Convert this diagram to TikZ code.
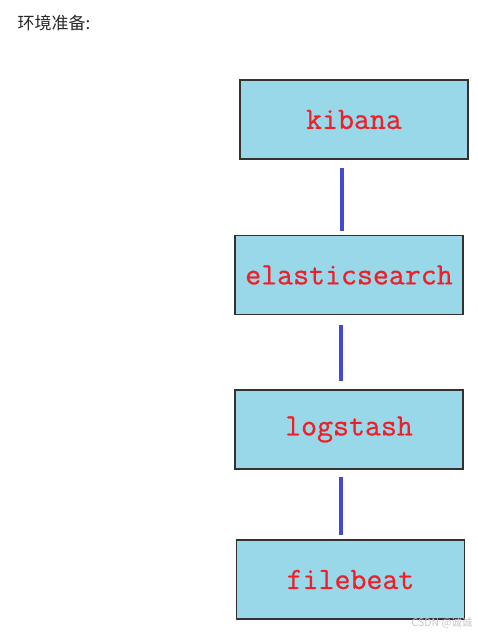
\documentclass[tikz,border=0pt]{standalone}
\usepackage{fontspec}
\newfontfamily\cjk{Noto Sans CJK SC}
\newfontfamily\wmfont{Noto Sans CJK SC}
\newfontfamily\monofont[FakeBold=0.6]{Latin Modern Mono}
\definecolor{boxfill}{RGB}{152,216,232}
\definecolor{boxline}{RGB}{50,50,50}
\definecolor{linkblue}{RGB}{68,72,210}
\definecolor{txtred}{RGB}{240,30,40}
\definecolor{titlegray}{RGB}{40,40,40}
\definecolor{wmgray}{RGB}{200,200,200}
\newcommand{\lowered}[1]{\raisebox{-3pt}{#1}}
\begin{document}
\begin{tikzpicture}[x=1pt,y=-1pt,
  compbox/.style={draw=boxline,line width=1.5pt,fill=boxfill,inner sep=0pt,
    minimum width=228pt,minimum height=79pt,
    font=\fontsize{31}{31}\selectfont\monofont,text=txtred},
  link/.style={draw=linkblue,line width=4pt}]
\useasboundingbox[fill=white] (0,0) rectangle (478,636);
\node[anchor=west,text=titlegray,font=\cjk\fontsize{17}{17}\selectfont] (title) at (14,23) {环境准备:};
\node[compbox] (kib) at (354,119.5) {\lowered{kibana}};
\node[compbox] (es) at (349,275) {\lowered{elasticsearch}};
\node[compbox] (ls) at (349,429.5) {\lowered{logstash}};
\node[compbox] (fb) at (350.5,579.5) {\lowered{filebeat}};
\coordinate (a1) at (342,168); \coordinate (a2) at (342,231);
\coordinate (b1) at (341,325); \coordinate (b2) at (341,381);
\coordinate (c1) at (341,477); \coordinate (c2) at (341,535);
\draw[link] (a1) -- (a2);
\draw[link] (b1) -- (b2);
\draw[link] (c1) -- (c2);
\node[anchor=east,text=wmgray,font=\wmfont\fontsize{10.5}{10.5}\selectfont] (wm) at (476,623) {CSDN @诚诚};
\end{tikzpicture}
\end{document}
